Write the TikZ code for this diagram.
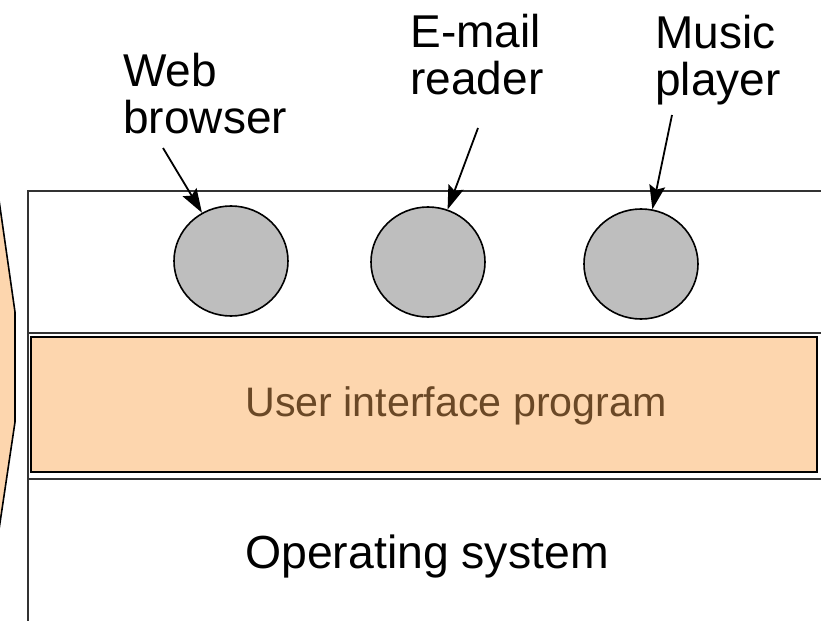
\documentclass[tikz,border=0pt]{standalone}
\usepackage{fontspec}
\setmainfont{Liberation Sans}
\usepackage{tikz}
\usetikzlibrary{arrows.meta,shapes.geometric}
\definecolor{uiFill}{RGB}{253,214,174}
\definecolor{uiText}{RGB}{106,72,38}
\definecolor{appFill}{RGB}{190,190,190}

\begin{document}
\begin{tikzpicture}[x=0.5pt,y=-0.5pt,
  app/.style={ellipse,draw=black,line width=0.8pt,fill=appFill,
    minimum width=57pt,minimum height=55pt,inner sep=0pt},
  lab/.style={anchor=north west,align=left,inner sep=0pt,
    font=\fontsize{23}{23.5}\selectfont},
  ptr/.style={-{Stealth[length=12pt,width=8pt,inset=2pt]},line width=0.9pt},
  layer/.style={inner sep=0pt}]
  \useasboundingbox (0,0) rectangle (821,621);
  \clip (0,0) rectangle (821,621);
  % edge of the next shape, cut off on the left
  \draw[fill=uiFill,line width=0.8pt] (-10,137) -- (15,312) -- (15,422)
    -- (-10,590) -- (-40,590) -- (-40,137) -- cycle;
  % frame
  \draw[black!80,line width=1pt] (821,191) -- (28,191) -- (28,630);
  \draw[black!80,line width=1pt] (28,333) -- (830,333);
  \draw[black!80,line width=1pt] (28,479) -- (830,479);
  \draw[fill=uiFill,line width=1pt] (30.5,337) rectangle (817,472);
  % layers
  \node[layer,text=uiText,font=\fontsize{20.6}{24}\selectfont] (ui) at (456,406) {User interface program};
  \node[layer,font=\fontsize{23.2}{26}\selectfont] (os) at (427,557) {Operating system};
  % programs
  \node[app] (wb) at (231,261) {};
  \node[app] (em) at (428,262) {};
  \node[app] (mp) at (641,264) {};
  \node[lab] (wblab) at (123,53) {Web\\browser};
  \node[lab] (emlab) at (410,14) {E-mail\\reader};
  \node[lab] (mplab) at (655,15) {Music\\player};
  \coordinate (wbtail) at (163,148);
  \coordinate (emtail) at (478,128);
  \coordinate (mptail) at (672,115);
  \draw[ptr] (wbtail) -- (wb);
  \draw[ptr] (emtail) -- (em);
  \draw[ptr] (mptail) -- (mp);
\end{tikzpicture}
\end{document}
